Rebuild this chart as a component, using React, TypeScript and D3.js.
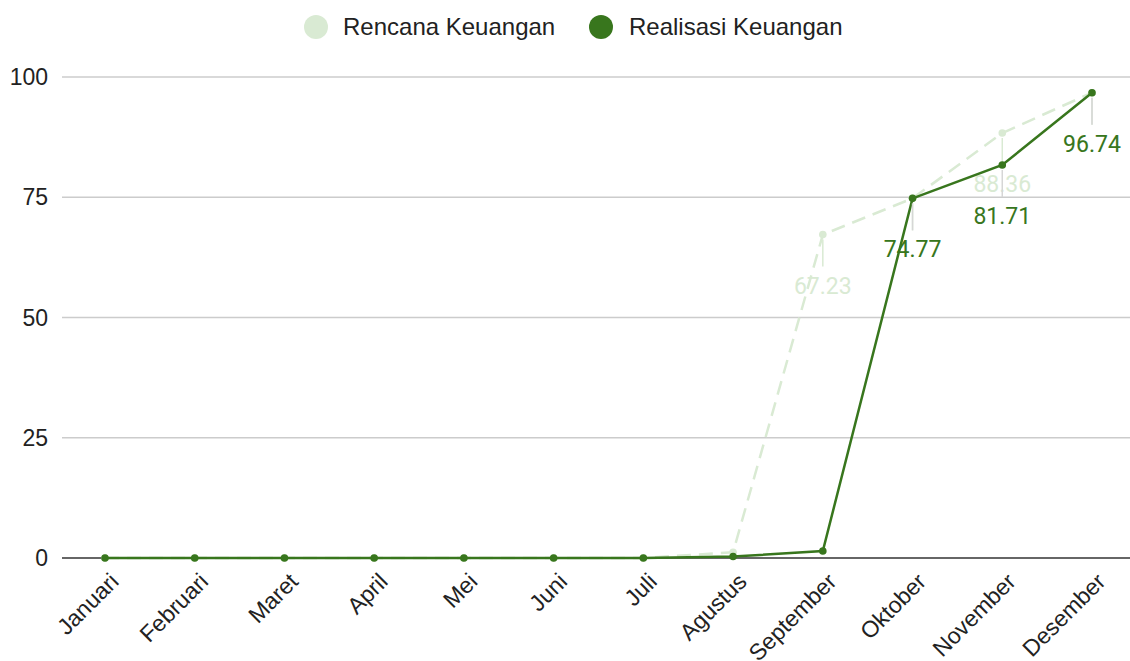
import * as d3 from 'd3';

const months = ['Januari', 'Februari', 'Maret', 'April', 'Mei', 'Juni', 'Juli', 'Agustus', 'September', 'Oktober', 'November', 'Desember'];
const rencana = [0, 0, 0, 0, 0, 0, 0, 1.2, 67.23, 74.77, 88.36, 96.74];
const realisasi = [0, 0, 0, 0, 0, 0, 0, 0.3, 1.45, 74.77, 81.71, 96.74];
// labels only shown from September onwards
const labelFrom = 8;
const yTicks = [0, 25, 50, 75, 100];

const LIGHT = '#d9ead3';
const DARK = '#38761d';

export default function App() {
  const W = 1130, H = 661;
  const x = d3.scalePoint<string>().domain(months).range([105, 1092]);
  const y = d3.scaleLinear().domain([0, 100]).range([558, 77]);
  const line = d3.line<number>().x((_, i) => x(months[i])!).y(d => y(d));
  const axisFont = '"Liberation Sans", Arial, sans-serif';
  const labelFont = 'Roboto, "Noto Sans", sans-serif';

  const series = [
    { name: 'Rencana Keuangan', data: rencana, color: LIGHT, dash: '14 8', leader: LIGHT },
    { name: 'Realisasi Keuangan', data: realisasi, color: DARK, dash: undefined, leader: '#d6d6d6' },
  ];

  return (
    <svg width={W} height={H} style={{ position: 'absolute', left: 0, top: 0, background: '#fff' }}>
      {/* legend */}
      <g fontFamily={axisFont} fontSize={24} fill="#222">
        <circle cx={316} cy={27} r={12} fill={LIGHT} />
        <text x={343} y={35}>Rencana Keuangan</text>
        <circle cx={601} cy={27} r={12} fill={DARK} />
        <text x={629} y={35}>Realisasi Keuangan</text>
      </g>
      {/* grid + y axis */}
      {yTicks.map(t => (
        <g key={t}>
          <line x1={62} x2={W} y1={y(t)} y2={y(t)} stroke={t === 0 ? '#333' : '#cccccc'} strokeWidth={t === 0 ? 1.6 : 1.3} />
          <text x={48} y={y(t) + 8} textAnchor="end" fontFamily={axisFont} fontSize={23} fill="#222">{t}</text>
        </g>
      ))}
      {/* x labels */}
      {months.map(m => (
        <text key={m} transform={`translate(${x(m)! + 15},${583}) rotate(-45)`} textAnchor="end"
          fontFamily={axisFont} fontSize={23} fill="#222">{m}</text>
      ))}
      {/* series */}
      {series.map(s => (
        <g key={s.name}>
          <path d={line(s.data) ?? ''} fill="none" stroke={s.color} strokeWidth={2.5} strokeDasharray={s.dash} />
          {s.data.map((v, i) => (
            <circle key={i} cx={x(months[i])} cy={y(v)} r={3.8} fill={s.color} />
          ))}
          {s.data.map((v, i) => i >= labelFrom && (v > 5) ? (
            <g key={'l' + i}>
              <line x1={x(months[i])} x2={x(months[i])} y1={y(v) + 5} y2={y(v) + 32} stroke={s.leader} strokeWidth={1.5} />
              <text x={x(months[i])} y={y(v) + 59} textAnchor="middle" fontFamily={labelFont} fontSize={23} fill={s.color}>
                {v.toFixed(2)}
              </text>
            </g>
          ) : null)}
        </g>
      ))}
    </svg>
  );
}
